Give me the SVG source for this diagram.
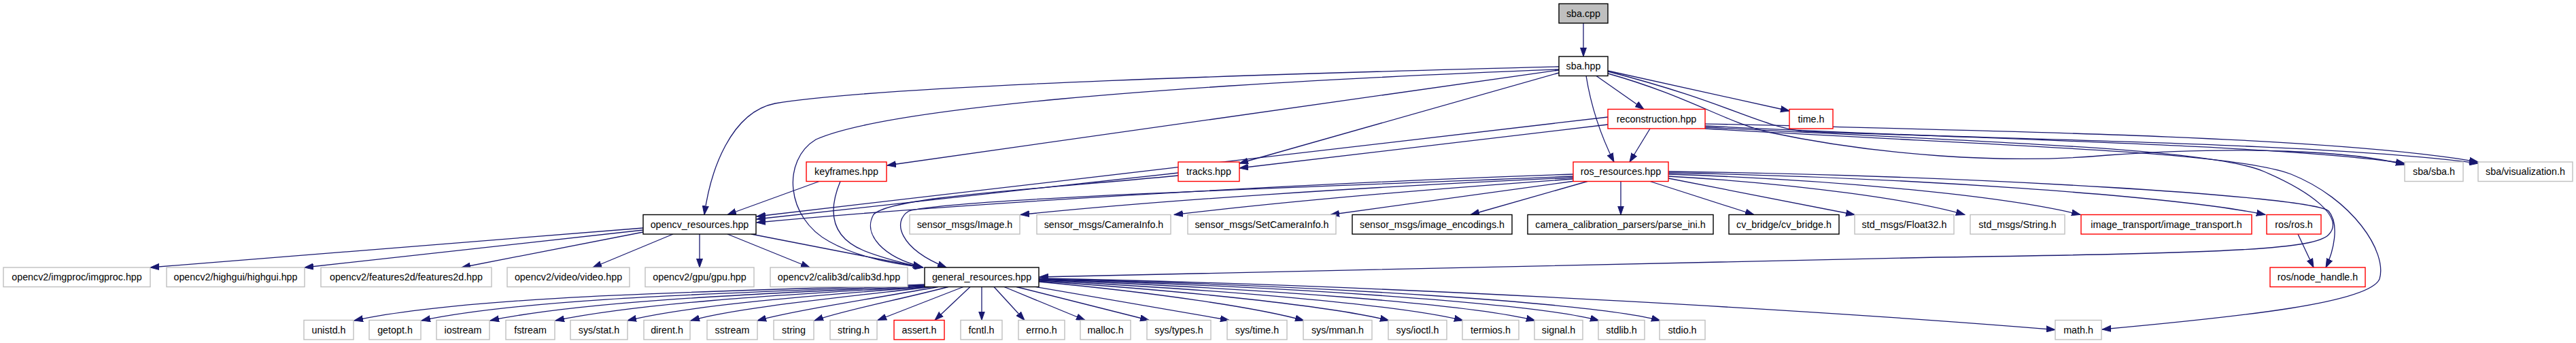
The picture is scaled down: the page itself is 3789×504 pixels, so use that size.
<svg xmlns="http://www.w3.org/2000/svg" width="3789" height="504" viewBox="0 0 3789 504">
<style>
rect{stroke-width:1.4;fill:#fff}
.k{stroke:#000}
.r{stroke:#ff0000}
.g{stroke:#bfbfbf}
.root{stroke:#000;fill:#bfbfbf}
text{font-family:"Liberation Sans",Arial,sans-serif;font-size:14.3px;text-anchor:middle;fill:#000}
#edges path{fill:none;stroke:#191970;stroke-width:1.3;marker-end:url(#ah)}
</style>
<defs>
<marker id="ah" markerWidth="14" markerHeight="10" refX="13" refY="5" orient="auto" markerUnits="userSpaceOnUse">
<path d="M0,0.5 L13,5 L0,9.5 z" fill="#191970" stroke="#191970" stroke-width="1"/>
</marker>
</defs>
<rect width="3789" height="504" fill="#fff" stroke="none"/>
<g id="edges">
<path d="M2329,34 L2329,83"/>
<path d="M2348,111.5 L2418,160.5"/>
<path d="M2333,111.5 C2340,155 2355,200 2374,238"/>
<path d="M2365,104 L2632,163"/>
<path d="M2365,108 C2480,140 2540,180 2600,194 C2760,228 2950,242 3100,228 C3300,214 3460,222 3537,242"/>
<path d="M2365,105 C2540,150 2580,182 2650,193 C2950,205 3420,210 3645,240"/>
<path d="M2293,98 C1900,108 1300,125 1140,152 C1075,165 1045,250 1036,315.5"/>
<path d="M2293,102 C1700,125 1300,160 1200,205 C1150,235 1155,320 1220,355 C1265,380 1320,388 1358,393"/>
<path d="M2293,103 L1305,243"/>
<path d="M2293,107 L1823,240"/>
<path d="M2427,189 L2397,238"/>
<path d="M2365,183 L1823,247"/>
<path d="M2365,172 L1113,318"/>
<path d="M2508,185 C2900,205 3350,212 3537,240"/>
<path d="M2508,182 C3000,193 3450,203 3645,238"/>
<path d="M2508,187 C2900,208 3250,217 3330,252 C3400,282 3450,320 3425,345 C3405,365 3300,372 2850,378 L1529,407"/>
<path d="M2508,189 C2950,215 3280,222 3370,256 C3460,292 3512,370 3500,410 C3485,445 3300,465 3092,484"/>
<path d="M1205,266.5 L1070,315.5"/>
<path d="M1236,266.5 C1222,300 1215,345 1270,368 C1300,380 1330,387 1357,393"/>
<path d="M1733,254 L1113,322"/>
<path d="M1733,258 C1500,280 1310,290 1285,315 C1268,345 1300,378 1356,392"/>
<path d="M2314,256 C1900,270 1400,300 1113,327"/>
<path d="M2314,259 C1900,276 1400,292 1337,310 C1312,325 1322,365 1392,393"/>
<path d="M2314,261 C2000,275 1700,295 1501,315.5"/>
<path d="M2314,263 C2100,278 1900,295 1727,315.5"/>
<path d="M2316,266 L1957,315.5"/>
<path d="M2335,266.5 L2163,315.5"/>
<path d="M2384,266.5 L2384,315.5"/>
<path d="M2427,266.5 L2580,315.5"/>
<path d="M2454,262 L2728,315.5"/>
<path d="M2454,259 C2650,270 2820,295 2890,315.5"/>
<path d="M2454,256 C2700,264 2950,288 3060,315.5"/>
<path d="M2454,254 C2800,260 3200,288 3332,315.5"/>
<path d="M2454,252 C2900,258 3400,288 3425,310 C3442,330 3432,370 3421,393"/>
<path d="M3380,344 L3403,393"/>
<path d="M946,335 L221,393"/>
<path d="M946,338 L448,393"/>
<path d="M946,341 L679,393"/>
<path d="M990,344 L872,393"/>
<path d="M1029,344 L1029,393"/>
<path d="M1070,344 L1191,393"/>
<path d="M1105,344 L1357,393"/>
<path d="M1362,418 C1100,428 700,432 521,471"/>
<path d="M1362,419 C1100,430 780,437 620,471"/>
<path d="M1362,420 C1110,432 860,442 721,471"/>
<path d="M1362,421 C1130,434 940,446 817,471"/>
<path d="M1364,421.5 C1160,437 1010,450 923,471"/>
<path d="M1370,421.5 C1210,440 1080,453 1016,471"/>
<path d="M1380,421.5 C1270,441 1170,456 1114,471"/>
<path d="M1395,421.5 C1320,441 1240,456 1198,471"/>
<path d="M1417,421.5 L1291,470.5"/>
<path d="M1427,421.5 L1375,470.5"/>
<path d="M1444,421.5 L1444,470.5"/>
<path d="M1462,421.5 L1507,470.5"/>
<path d="M1477,421.5 L1596,470.5"/>
<path d="M1495,421.5 L1690,470.5"/>
<path d="M1515,420 L1808,470.5"/>
<path d="M1528,414 C1700,430 1850,452 1918,471"/>
<path d="M1528,413 C1750,428 1960,450 2043,471"/>
<path d="M1528,412 C1800,426 2060,448 2152,471"/>
<path d="M1528,411 C1850,424 2160,446 2258,471"/>
<path d="M1528,410.5 C1900,421 2260,446 2352,471"/>
<path d="M1528,410 C1950,419 2350,446 2442,471"/>
<path d="M1528,409 C2100,420 2750,462 3023,484.5"/>
</g>
<g id="n_sba_cpp"><rect class="root" x="2293" y="5.5" width="72" height="28.5"/><text x="2329" y="24.5">sba.cpp</text></g>
<g id="n_sba_hpp"><rect class="k" x="2293" y="83" width="72" height="28.5"/><text x="2329" y="102">sba.hpp</text></g>
<g id="n_reconstruction"><rect class="r" x="2365" y="160.5" width="143" height="28.5"/><text x="2436.5" y="179.5">reconstruction.hpp</text></g>
<g id="n_time"><rect class="r" x="2632" y="160.5" width="64" height="28.5"/><text x="2664" y="179.5">time.h</text></g>
<g id="n_keyframes"><rect class="r" x="1186" y="238" width="118" height="28.5"/><text x="1245" y="257">keyframes.hpp</text></g>
<g id="n_tracks"><rect class="r" x="1733" y="238" width="90" height="28.5"/><text x="1778" y="257">tracks.hpp</text></g>
<g id="n_ros_resources"><rect class="r" x="2314" y="238" width="140" height="28.5"/><text x="2384" y="257">ros_resources.hpp</text></g>
<g id="n_sba_sba"><rect class="g" x="3537" y="238" width="86" height="28.5"/><text x="3580" y="257">sba/sba.h</text></g>
<g id="n_sba_vis"><rect class="g" x="3645" y="238" width="139" height="28.5"/><text x="3714.5" y="257">sba/visualization.h</text></g>
<g id="n_opencv_resources"><rect class="k" x="946" y="315.5" width="166" height="28.5"/><text x="1029" y="334.5">opencv_resources.hpp</text></g>
<g id="n_image"><rect class="g" x="1338" y="315.5" width="162" height="28.5"/><text x="1419" y="334.5">sensor_msgs/Image.h</text></g>
<g id="n_camerainfo"><rect class="g" x="1525" y="315.5" width="197" height="28.5"/><text x="1623.5" y="334.5">sensor_msgs/CameraInfo.h</text></g>
<g id="n_setcamerainfo"><rect class="g" x="1747" y="315.5" width="218" height="28.5"/><text x="1856" y="334.5">sensor_msgs/SetCameraInfo.h</text></g>
<g id="n_image_encodings"><rect class="k" x="1989" y="315.5" width="235" height="28.5"/><text x="2106.5" y="334.5">sensor_msgs/image_encodings.h</text></g>
<g id="n_parse_ini"><rect class="k" x="2247" y="315.5" width="273" height="28.5"/><text x="2383.5" y="334.5">camera_calibration_parsers/parse_ini.h</text></g>
<g id="n_cv_bridge"><rect class="k" x="2543" y="315.5" width="162" height="28.5"/><text x="2624" y="334.5">cv_bridge/cv_bridge.h</text></g>
<g id="n_float32"><rect class="g" x="2728" y="315.5" width="146" height="28.5"/><text x="2801" y="334.5">std_msgs/Float32.h</text></g>
<g id="n_string_msg"><rect class="g" x="2898" y="315.5" width="139" height="28.5"/><text x="2967.5" y="334.5">std_msgs/String.h</text></g>
<g id="n_image_transport"><rect class="r" x="3061" y="315.5" width="251" height="28.5"/><text x="3186.5" y="334.5">image_transport/image_transport.h</text></g>
<g id="n_ros"><rect class="r" x="3334" y="315.5" width="80" height="28.5"/><text x="3374" y="334.5">ros/ros.h</text></g>
<g id="n_imgproc"><rect class="g" x="5" y="393" width="216" height="28.5"/><text x="113" y="412">opencv2/imgproc/imgproc.hpp</text></g>
<g id="n_highgui"><rect class="g" x="245" y="393" width="203" height="28.5"/><text x="346.5" y="412">opencv2/highgui/highgui.hpp</text></g>
<g id="n_features2d"><rect class="g" x="472" y="393" width="251" height="28.5"/><text x="597.5" y="412">opencv2/features2d/features2d.hpp</text></g>
<g id="n_video"><rect class="g" x="746" y="393" width="180" height="28.5"/><text x="836" y="412">opencv2/video/video.hpp</text></g>
<g id="n_gpu"><rect class="g" x="949" y="393" width="160" height="28.5"/><text x="1029" y="412">opencv2/gpu/gpu.hpp</text></g>
<g id="n_calib3d"><rect class="g" x="1133" y="393" width="202" height="28.5"/><text x="1234" y="412">opencv2/calib3d/calib3d.hpp</text></g>
<g id="n_general_resources"><rect class="k" x="1360" y="393" width="168" height="28.5"/><text x="1444" y="412">general_resources.hpp</text></g>
<g id="n_node_handle"><rect class="r" x="3339" y="393" width="140" height="28.5"/><text x="3409" y="412">ros/node_handle.h</text></g>
<g id="n_unistd"><rect class="g" x="447" y="470.5" width="73" height="28.5"/><text x="483.5" y="489.5">unistd.h</text></g>
<g id="n_getopt"><rect class="g" x="543" y="470.5" width="76" height="28.5"/><text x="581" y="489.5">getopt.h</text></g>
<g id="n_iostream"><rect class="g" x="642" y="470.5" width="78" height="28.5"/><text x="681" y="489.5">iostream</text></g>
<g id="n_fstream"><rect class="g" x="744" y="470.5" width="72" height="28.5"/><text x="780" y="489.5">fstream</text></g>
<g id="n_sys_stat"><rect class="g" x="839" y="470.5" width="84" height="28.5"/><text x="881" y="489.5">sys/stat.h</text></g>
<g id="n_dirent"><rect class="g" x="947" y="470.5" width="68" height="28.5"/><text x="981" y="489.5">dirent.h</text></g>
<g id="n_sstream"><rect class="g" x="1040" y="470.5" width="74" height="28.5"/><text x="1077" y="489.5">sstream</text></g>
<g id="n_string"><rect class="g" x="1138" y="470.5" width="59" height="28.5"/><text x="1167.5" y="489.5">string</text></g>
<g id="n_string_h"><rect class="g" x="1221" y="470.5" width="69" height="28.5"/><text x="1255.5" y="489.5">string.h</text></g>
<g id="n_assert"><rect class="r" x="1315" y="470.5" width="74" height="28.5"/><text x="1352" y="489.5">assert.h</text></g>
<g id="n_fcntl"><rect class="g" x="1413" y="470.5" width="61" height="28.5"/><text x="1443.5" y="489.5">fcntl.h</text></g>
<g id="n_errno"><rect class="g" x="1498" y="470.5" width="68" height="28.5"/><text x="1532" y="489.5">errno.h</text></g>
<g id="n_malloc"><rect class="g" x="1589" y="470.5" width="74" height="28.5"/><text x="1626" y="489.5">malloc.h</text></g>
<g id="n_sys_types"><rect class="g" x="1687" y="470.5" width="94" height="28.5"/><text x="1734" y="489.5">sys/types.h</text></g>
<g id="n_sys_time"><rect class="g" x="1805" y="470.5" width="88" height="28.5"/><text x="1849" y="489.5">sys/time.h</text></g>
<g id="n_sys_mman"><rect class="g" x="1917" y="470.5" width="101" height="28.5"/><text x="1967.5" y="489.5">sys/mman.h</text></g>
<g id="n_sys_ioctl"><rect class="g" x="2042" y="470.5" width="86" height="28.5"/><text x="2085" y="489.5">sys/ioctl.h</text></g>
<g id="n_termios"><rect class="g" x="2151" y="470.5" width="83" height="28.5"/><text x="2192.5" y="489.5">termios.h</text></g>
<g id="n_signal"><rect class="g" x="2257" y="470.5" width="71" height="28.5"/><text x="2292.5" y="489.5">signal.h</text></g>
<g id="n_stdlib"><rect class="g" x="2351" y="470.5" width="68" height="28.5"/><text x="2385" y="489.5">stdlib.h</text></g>
<g id="n_stdio"><rect class="g" x="2441" y="470.5" width="67" height="28.5"/><text x="2474.5" y="489.5">stdio.h</text></g>
<g id="n_math"><rect class="g" x="3023" y="470.5" width="68" height="28.5"/><text x="3057" y="489.5">math.h</text></g>
</svg>
